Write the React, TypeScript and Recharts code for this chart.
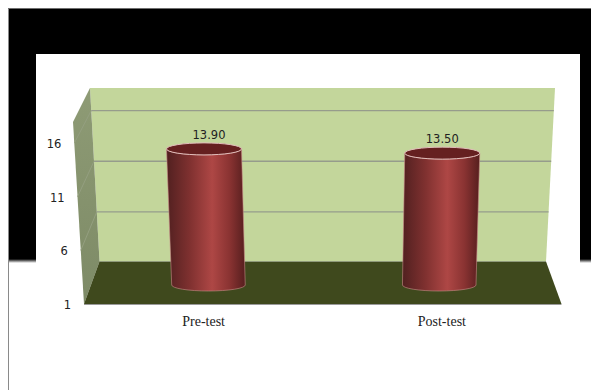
import { Bar, CartesianGrid, ComposedChart, LabelList, XAxis, YAxis } from "recharts"

const categories = ["Pre-test", "Post-test"]
const scores = [13.9, 13.5]
const scoreTicks = [1, 6, 11, 16]

const chartData = categories.map((name, i) => ({ name, score: scores[i] }))

// plot area sits on the middle depth of the 3D box
const PLOT_BOTTOM = 285
const VANISH_X = 346
const BASE_NARROW = 1.0325
const SERIF = "'Liberation Serif', serif"
const SANS = "'DejaVu Sans', sans-serif"

// move a y from the bar depth to the front edge or the back wall
const toFront = (y: number) => 304 - (PLOT_BOTTOM - y) * 1.017
const toBack = (y: number) => 262.5 - (PLOT_BOTTOM - y) * 0.96
const backLeftX = (y: number) => 99.5 - (261.5 - y) * 0.0546
const backRightX = (y: number) => 546 + (261.5 - y) * 0.052
const frontX = (y: number) => 84 - (304 - y) * 0.06

function Backdrop() {
  return (
    <svg width={591} height={390} style={{ position: "absolute", left: 0, top: 0 }}>
      <defs>
        <linearGradient id="frameFade" x1="0" y1="0" x2="0" y2="1">
          <stop offset="0" stopColor="#000" />
          <stop offset="1" stopColor="#fff" />
        </linearGradient>
        <linearGradient id="sideWall" x1="0" y1="0" x2="0" y2="1">
          <stop offset="0" stopColor="#8e9b75" />
          <stop offset="1" stopColor="#7d8a66" />
        </linearGradient>
      </defs>
      <rect width={591} height={390} fill="#fff" />
      <rect x={8} y={8} width={583} height={251} fill="#000" />
      <rect x={8} y={259} width={583} height={4} fill="url(#frameFade)" />
      <line x1={8.5} y1={8} x2={8.5} y2={390} stroke="#8a8a8a" />
      <line x1={8} y1={8.5} x2={591} y2={8.5} stroke="#6e6e6e" />
      <rect x={36} y={54} width={544} height={336} fill="#fff" />

      <polygon points="90,88 555,88 546,261.5 99.5,261.5" fill="#c3d69b" />
      <polygon points="73,122 90,88 99.5,261.5 84,304" fill="url(#sideWall)" />
      <polygon points="99.5,261.5 546,261.5 561.5,304 84,304" fill="#3f491d" />
      <line x1={84} y1={304.5} x2={561.5} y2={304.5} stroke="#9a9a9a" />
      <line x1={99.5} y1={261.5} x2={546} y2={261.5} stroke="#8f9a7a" />
    </svg>
  )
}

// one horizontal rule: across the back wall and down the side wall
function WallRule(props: any) {
  const { y1, index } = props
  if (Math.abs(y1 - PLOT_BOTTOM) < 1 || y1 < 110) return <g key={`rule-${index}`} />
  const backY = toBack(y1)
  const frontY = toFront(y1)
  return (
    <g key={`rule-${index}`}>
      <line x1={frontX(frontY)} y1={frontY} x2={backLeftX(backY)} y2={backY} stroke="#949f80" />
      <line x1={backLeftX(backY)} y1={backY} x2={backRightX(backY)} y2={backY} stroke="#969c8c" strokeWidth={1.4} />
    </g>
  )
}

function ScoreTick({ y, payload }: any) {
  const labelY = toFront(y)
  return (
    <text x={frontX(labelY) - 13} y={labelY + 5} textAnchor="end" fontFamily={SANS} fontSize={11.5} fill="#222">
      {payload.value}
    </text>
  )
}

// cylinder leaning towards the vanishing point
function Cylinder({ x, y, width, height }: any) {
  const topCx = x + width / 2
  const baseCx = VANISH_X + (topCx - VANISH_X) / BASE_NARROW
  const rxTop = width / 2
  const rxBase = rxTop / 1.02
  const ry = 6
  const baseY = y + height
  const body =
    `M${topCx - rxTop},${y} L${baseCx - rxBase},${baseY} ` +
    `A${rxBase},${ry} 0 0 0 ${baseCx + rxBase},${baseY} L${topCx + rxTop},${y} ` +
    `A${rxTop},${ry} 0 0 1 ${topCx - rxTop},${y} Z`
  return (
    <g>
      <path d={body} fill="url(#cylinderSide)" stroke="#c98d8a" strokeWidth={0.6} />
      <ellipse cx={topCx} cy={y} rx={rxTop} ry={ry} fill="#652020" stroke="#e2bdbb" strokeWidth={1} />
    </g>
  )
}

function ScoreLabel({ x, y, width, value, index }: any) {
  return (
    <text
      x={x + width / 2 + (index === 0 ? 5 : 0)}
      y={y - 10}
      textAnchor="middle"
      fontFamily={SANS}
      fontSize={11.5}
      fill="#222"
    >
      {Number(value).toFixed(2)}
    </text>
  )
}

export default function App() {
  return (
    <div style={{ position: "absolute", left: 0, top: 0, width: 591, height: 390, overflow: "hidden" }}>
      <Backdrop />
      <div style={{ position: "absolute", left: 0, top: 0 }}>
        <ComposedChart
          width={591}
          height={390}
          data={chartData}
          margin={{ top: 105.65, right: 30, bottom: 75, left: 0 }}
        >
          <defs>
            <linearGradient id="cylinderSide" x1="0" y1="0" x2="1" y2="0">
              <stop offset="0" stopColor="#512020" />
              <stop offset="0.3" stopColor="#803130" />
              <stop offset="0.58" stopColor="#ae4745" />
              <stop offset="0.8" stopColor="#8a3332" />
              <stop offset="1" stopColor="#561e1e" />
            </linearGradient>
          </defs>
          <CartesianGrid vertical={false} horizontal={WallRule} />
          <XAxis
            dataKey="name"
            height={30}
            axisLine={false}
            tickLine={false}
            tickMargin={25}
            tick={{ fontFamily: SERIF, fontSize: 14, fill: "#222" }}
          />
          <YAxis
            type="number"
            domain={[1, 18]}
            ticks={scoreTicks}
            width={84.5}
            axisLine={false}
            tickLine={false}
            tick={ScoreTick}
          />
          <Bar dataKey="score" barSize={75} shape={Cylinder} isAnimationActive={false}>
            <LabelList dataKey="score" content={ScoreLabel} />
          </Bar>
        </ComposedChart>
      </div>
    </div>
  )
}
